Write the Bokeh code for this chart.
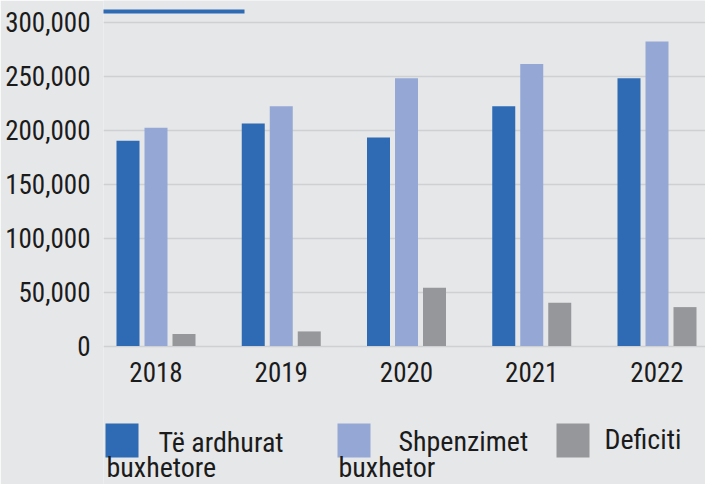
from bokeh.plotting import figure
from bokeh.models import Range1d, FixedTicker, NumeralTickFormatter, ColumnDataSource
from bokeh.core.properties import value
from bokeh.embed import file_html
from bokeh.resources import INLINE

# ---- data ----
years = [2018, 2019, 2020, 2021, 2022]
revenue = [190000, 206000, 193000, 222000, 248000]
spending = [202000, 222000, 248000, 261000, 282000]
deficit = [11000, 13500, 54000, 40000, 36000]
series_first = ["Të ardhurat", "Shpenzimet", "Deficiti"]
series_second = ["buxhetore", "buxhetor"]
y_ticks = [0, 50000, 100000, 150000, 200000, 250000, 300000]

# ---- style ----
BG = "#e6e7e9"
GRID = "#cfd0d3"
C_REV = "#2e6bb4"
C_SPEND = "#94a7d5"
C_DEF = "#96979a"
FONT = "Roboto Condensed, DejaVu Sans Condensed, sans-serif"
TXT = "#1b1b1b"
W, H = 705, 484

# layout constants (figure pixels)
FRAME_L, FRAME_R, FRAME_T, FRAME_B = 103, 705, 0, 484
ZERO_Y = 345.5
PX_PER_K = 1.08
PX_PER_GROUP = 125.25
FIRST_CENTER = 155.5
TEXT_DY = -10  # compensation for text baseline placement
LEG_DY = -3    # legend shifted up slightly so the wrapped line fits

x_range = Range1d((FRAME_L - FIRST_CENTER) / PX_PER_GROUP, (FRAME_R - FIRST_CENTER) / PX_PER_GROUP)
y_range = Range1d(-(FRAME_B - ZERO_Y) / PX_PER_K * 1000, (ZERO_Y - FRAME_T) / PX_PER_K * 1000)

p = figure(width=W, height=H, x_range=x_range, y_range=y_range, output_backend="svg",
           toolbar_location=None, background_fill_color=BG, border_fill_color=BG,
           outline_line_color=None, min_border_left=FRAME_L, min_border_right=0,
           min_border_top=0, min_border_bottom=0)
p.extra_x_ranges = {"px": Range1d(FRAME_L, FRAME_R)}
p.extra_y_ranges = {"py": Range1d(FRAME_B, FRAME_T)}

idx = list(range(len(years)))
off = 28 / PX_PER_GROUP
bw = 23 / PX_PER_GROUP
src = ColumnDataSource(dict(
    x_rev=[i - off for i in idx], x_sp=idx, x_def=[i + off for i in idx],
    rev=revenue, sp=spending, de=deficit))
p.vbar(x="x_rev", top="rev", width=bw, source=src, fill_color=C_REV, line_color=None)
p.vbar(x="x_sp", top="sp", width=bw, source=src, fill_color=C_SPEND, line_color=None)
p.vbar(x="x_def", top="de", width=bw, source=src, fill_color=C_DEF, line_color=None)

p.xgrid.visible = False
p.ygrid.grid_line_color = GRID
p.ygrid.grid_line_width = 1.5
p.ygrid.ticker = FixedTicker(ticks=y_ticks)

p.yaxis.ticker = FixedTicker(ticks=y_ticks)
p.yaxis.formatter = NumeralTickFormatter(format="0,0")
p.xaxis.ticker = FixedTicker(ticks=idx)
p.xaxis.major_label_overrides = {i: str(y) for i, y in zip(idx, years)}
p.xaxis.fixed_location = 0
for ax in (p.xaxis[0], p.yaxis[0]):
    ax.axis_line_color = None
    ax.major_tick_line_color = None
    ax.minor_tick_line_color = None
    ax.major_label_text_font = FONT
    ax.major_label_text_font_size = "27px"
    ax.major_label_text_color = TXT
p.yaxis.major_label_standoff = 7
p.xaxis.major_label_standoff = 10

# ---- title underline (title itself is cropped off above) ----
p.quad(left=[98], right=[244], top=[9], bottom=[13], fill_color=C_REV, line_color=None,
       x_range_name="px", y_range_name="py")

# ---- legend ----
colors = [C_REV, C_SPEND, C_DEF]
sq_left = [105, 337, 556]
txt_x = [158, 398, 604]
txt_y = [455 + LEG_DY + TEXT_DY, 454 + LEG_DY + TEXT_DY, 452 + LEG_DY + TEXT_DY]
p.quad(left=sq_left, right=[l + 33 for l in sq_left], top=[426 + LEG_DY] * 3,
       bottom=[460 + LEG_DY] * 3, fill_color=colors, line_color=None,
       x_range_name="px", y_range_name="py")
p.text(x=txt_x, y=txt_y, text=series_first, text_font=value(FONT), text_font_size="28px",
       text_color=TXT, text_baseline="alphabetic", text_align="left",
       x_range_name="px", y_range_name="py")
p.text(x=[l + 1 for l in sq_left[:len(series_second)]], y=[477 + TEXT_DY] * len(series_second),
       text=series_second, text_font=value(FONT), text_font_size="28px", text_color=TXT,
       text_baseline="alphabetic", text_align="left",
       x_range_name="px", y_range_name="py")

open("out.html", "w").write(file_html(p, INLINE))
